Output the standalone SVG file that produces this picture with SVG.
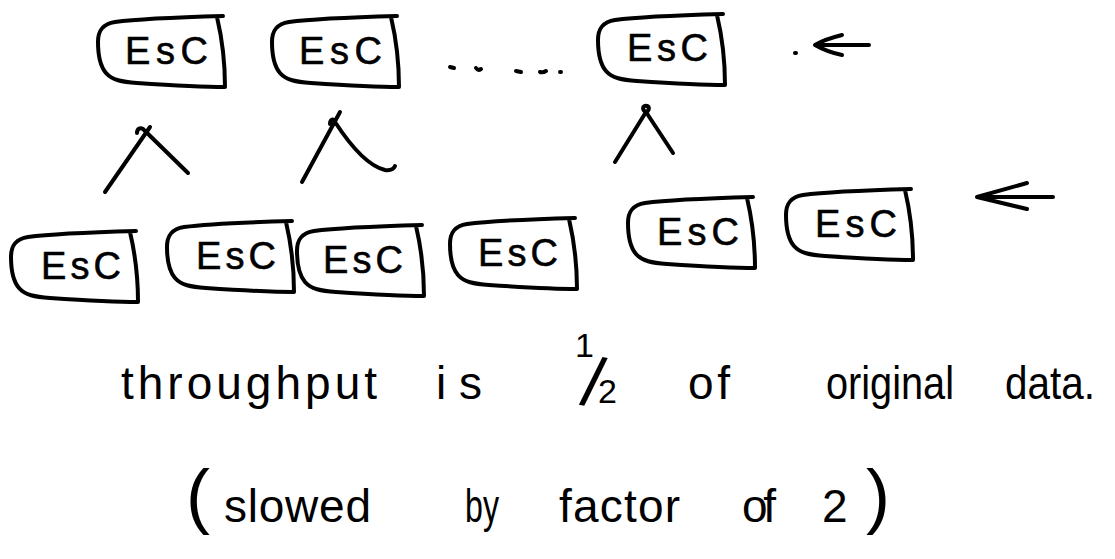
<svg xmlns="http://www.w3.org/2000/svg" xmlns:xlink="http://www.w3.org/1999/xlink" width="1115" height="559" viewBox="0 0 1115 559">
  <style>
    .ink { fill: none; stroke: #000; stroke-width: 4; stroke-linecap: round; stroke-linejoin: round; }
    .lbl { font-family: "Liberation Sans", "DejaVu Sans", sans-serif; font-size: 38px; fill: #000; stroke: #000; stroke-width: 0.6; }
    .hand { font-family: "Liberation Sans", "DejaVu Sans", sans-serif; font-size: 46px; fill: #000; }
    .paren { font-family: "Liberation Sans", "DejaVu Sans", sans-serif; font-size: 72px; fill: #000; }
  </style>
  <defs>
    <!-- hand-drawn rounded box, 128 x 73 -->
    <path id="box" class="ink" d="M126,2 C90,3 40,5 18,8 C6,10 1,16 1,28 C1,40 3,52 9,59 C15,66 25,68 40,69 C70,71 100,73 128,73 M120,3 C124,20 128,40 128,73"/>
  </defs>
  <rect width="1115" height="559" fill="#fff"/>

  <!-- upper row -->
  <g id="t1"><use xlink:href="#box" href="#box" transform="translate(97,14)"/><text class="lbl" x="125" y="64" textLength="83" lengthAdjust="spacing">EsC</text></g>
  <g id="t2"><use xlink:href="#box" href="#box" transform="translate(271,14)"/><text class="lbl" x="299" y="64" textLength="83" lengthAdjust="spacing">EsC</text></g>
  <g id="t3"><use xlink:href="#box" href="#box" transform="translate(597,12)"/><text class="lbl" x="627" y="61" textLength="81" lengthAdjust="spacing">EsC</text></g>

  <!-- dotted continuation between upper boxes, and the dot before the top arrow -->
  <g id="ellipsis" class="ink">
    <path d="M450,67 L454,68"/>
    <path d="M476,68 Q478,71 481,69"/>
    <path d="M516,71 L521,72"/>
    <path d="M540,72 Q543,73 546,71"/>
    <path d="M560,72 L561,72"/>
    <path d="M795,53 L796,53"/>
  </g>

  <!-- lower row -->
  <g id="b1"><use xlink:href="#box" href="#box" transform="translate(10,229)"/><text class="lbl" x="41" y="279" textLength="80" lengthAdjust="spacing">EsC</text></g>
  <g id="b2"><use xlink:href="#box" href="#box" transform="translate(166,219)"/><text class="lbl" x="196" y="269" textLength="80" lengthAdjust="spacing">EsC</text></g>
  <g id="b3"><use xlink:href="#box" href="#box" transform="translate(296,223)"/><text class="lbl" x="323" y="273" textLength="80" lengthAdjust="spacing">EsC</text></g>
  <g id="b4"><use xlink:href="#box" href="#box" transform="translate(449,216)"/><text class="lbl" x="478" y="266" textLength="80" lengthAdjust="spacing">EsC</text></g>
  <g id="b5"><use xlink:href="#box" href="#box" transform="translate(627,195)"/><text class="lbl" x="657" y="245" textLength="82" lengthAdjust="spacing">EsC</text></g>
  <g id="b6"><use xlink:href="#box" href="#box" transform="translate(785,187)"/><text class="lbl" x="815" y="237" textLength="82" lengthAdjust="spacing">EsC</text></g>

  <!-- merge carets and level arrows -->
  <g id="connectors" class="ink">
    <path d="M105,192 L150,127"/>
    <path d="M137,133 C137,129 140,127 143,129 L188,173"/>
    <path d="M302,182 L340,112"/>
    <path d="M330,124 C330,119 334,118 335,122 C350,145 368,166 385,170 Q393,171 395,166"/>
    <path d="M615,162 L646,112"/>
    <path d="M646,112 C642,110 642,105 647,106 C650,107 649,111 646,112 L673,153"/>
    <path d="M869,45 L817,45 M842,35 C830,38 820,42 815,45 C822,49 832,53 842,55"/>
    <path d="M1053,197 L979,197 M1027,183 L977,197 L1027,209"/>
  </g>

  <!-- notes -->
  <g id="notes">
    <text class="hand" x="121" y="399" textLength="256" lengthAdjust="spacing">throughput</text>
    <text class="hand" x="436" y="399" textLength="46" lengthAdjust="spacing">is</text>
    <text class="hand"><tspan font-size="34" x="575" y="357">1</tspan><tspan font-size="70" x="579" y="404" rotate="11">/</tspan><tspan font-size="34" x="598" y="403">2</tspan></text>
    <text class="hand" x="688" y="399" textLength="42" lengthAdjust="spacing">of</text>
    <text class="hand" x="826" y="399" textLength="128" lengthAdjust="spacingAndGlyphs">original</text>
    <text class="hand" x="1005" y="399" textLength="90" lengthAdjust="spacingAndGlyphs">data.</text>

    <text class="paren" x="186" y="520">(</text>
    <text class="hand" x="224" y="522" textLength="147" lengthAdjust="spacing">slowed</text>
    <text class="hand" x="465" y="522" textLength="34" lengthAdjust="spacingAndGlyphs">by</text>
    <text class="hand" x="559" y="522" textLength="121" lengthAdjust="spacing">factor</text>
    <text class="hand" x="742" y="522" textLength="34" lengthAdjust="spacing">of</text>
    <text class="hand" x="822" y="522" textLength="28" lengthAdjust="spacing">2</text>
    <text class="paren" x="866" y="520">)</text>
  </g>
</svg>
